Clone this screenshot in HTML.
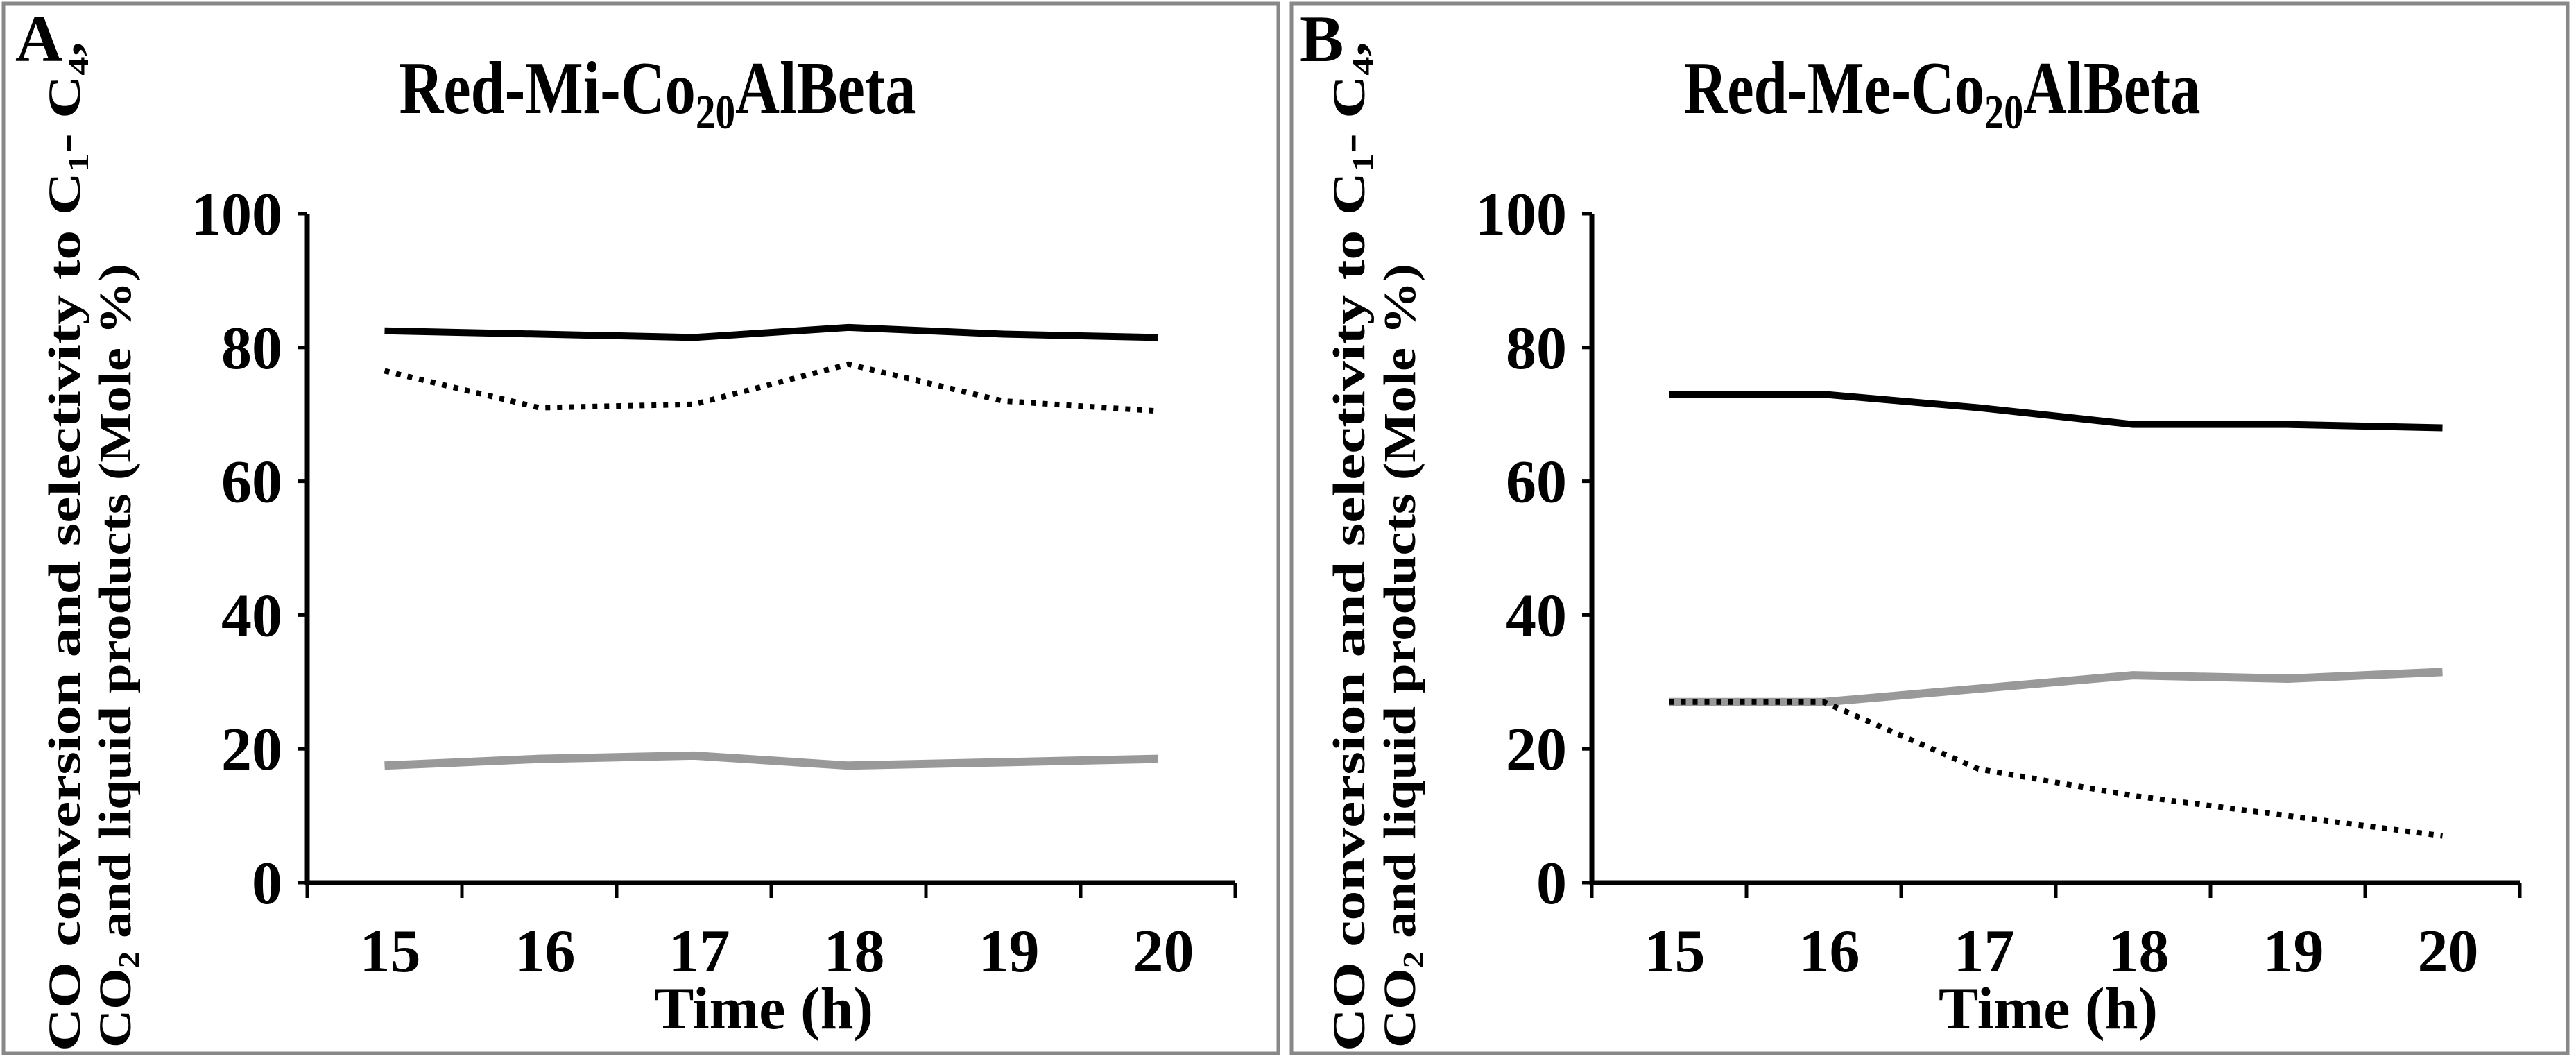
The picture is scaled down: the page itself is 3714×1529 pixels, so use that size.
<!DOCTYPE html>
<html><head><meta charset="utf-8"><style>
html,body{margin:0;padding:0;background:#fff}
svg{display:block;font-family:"Liberation Serif",serif;font-weight:bold}
</style></head><body>
<svg id="fig" width="3714" height="1529" viewBox="0 0 3714 1529" xmlns="http://www.w3.org/2000/svg">
<rect x="5" y="5" width="1838" height="1513" fill="none" stroke="#888" stroke-width="5"/>
<rect x="1862" y="5" width="1840" height="1513" fill="none" stroke="#888" stroke-width="5"/>
</svg>
<script>
const categories = [15, 16, 17, 18, 19, 20];
const yTicks = [0, 20, 40, 60, 80, 100];
const aBlack = [82.5, 82, 81.5, 83, 82, 81.5];
const aDotted = [76.5, 71, 71.5, 77.5, 72, 70.5];
const aGray = [17.5, 18.5, 19, 17.5, 18, 18.5];
const bBlack = [73, 73, 71, 68.5, 68.5, 68];
const bGray = [27, 27, 29, 31, 30.5, 31.5];
const bDotted = [27, 27, 17, 13, 10, 7];

const NS = 'http://www.w3.org/2000/svg';
const svg = document.getElementById('fig');
function mk(tag, attrs, parent) {
  const e = document.createElementNS(NS, tag);
  for (const k in attrs) e.setAttribute(k, attrs[k]);
  (parent || svg).appendChild(e);
  return e;
}
function panel(off, letter, titleMain, black, dotted, gray, key) {
  const g = mk('g', {transform: 'translate(' + off + ',0)'});
  
  
  const x0 = 443, band = 223, yTop = 308, yBot = 1272;
  const xs = i => x0 + band * (i + 0.5);
  const ys = v => yBot - (v / 100) * (yBot - yTop);
  const L = mk('text', {x: 22, y: 88, 'font-size': 95}, g); L.textContent = letter;
  
  
  const t = mk('text', {x: 948, y: 163, 'font-size': 108, 'text-anchor': 'middle', textLength: 745, lengthAdjust: 'spacingAndGlyphs'}, g);
  
  
  const t1 = mk('tspan', {}, t); t1.textContent = titleMain;
  const t2 = mk('tspan', {'font-size': 70, dy: 22}, t); t2.textContent = '20';
  const t3 = mk('tspan', {dy: -22}, t); t3.textContent = 'AlBeta';
  const yl = mk('g', {transform: 'rotate(-90)'}, g);
  
  
  const l1 = mk('text', {x: -1515, y: 115, 'font-size': 66, textLength: 1455, lengthAdjust: 'spacingAndGlyphs'}, yl);
  const a = mk('tspan', {}, l1); a.textContent = 'CO conversion and selectivity to C';
  const b = mk('tspan', {'font-size': 42, dy: 12}, l1); b.textContent = '1';
  const c = mk('tspan', {dy: -12}, l1); c.textContent = '- C';
  const d = mk('tspan', {'font-size': 42, dy: 12}, l1); d.textContent = '4';
  const e = mk('tspan', {dy: -12}, l1); e.textContent = ',';
  const l2 = mk('text', {x: -1510, y: 188, 'font-size': 66, textLength: 1130, lengthAdjust: 'spacingAndGlyphs'}, yl);
  const f = mk('tspan', {}, l2); f.textContent = 'CO';
  const h = mk('tspan', {'font-size': 42, dy: 12}, l2); h.textContent = '2';
  const i2 = mk('tspan', {dy: -12}, l2); i2.textContent = '  and liquid products (Mole %)';
  const ax = mk('path', {d: 'M' + x0 + ' ' + yTop + 'V' + yBot + 'H' + (x0 + band * 6), stroke: '#000', 'stroke-width': 7, fill: 'none'}, g);
  
  
  yTicks.forEach(v => {
    const tk = mk('line', {x1: x0 - 14, x2: x0, y1: ys(v), y2: ys(v), stroke: '#000', 'stroke-width': 5}, g);
    
    
    const tl = mk('text', {x: 407, y: ys(v) + 30, 'font-size': 88, 'text-anchor': 'end'}, g);
    tl.textContent = v;
    
    
  });
  for (let k = 0; k <= 6; k++) {
    const tk = mk('line', {x1: x0 + band * k, x2: x0 + band * k, y1: yBot, y2: yBot + 22, stroke: '#000', 'stroke-width': 5}, g);
    
    
  }
  categories.forEach((cv, k) => {
    const tl = mk('text', {x: xs(k) + 8, y: 1400, 'font-size': 88, 'text-anchor': 'middle'}, g);
    tl.textContent = cv;
    
    
  });
  const xt = mk('text', {x: 1101, y: 1482, 'font-size': 86, 'text-anchor': 'middle'}, g);
  xt.textContent = 'Time (h)';
  
  
  const pts = arr => arr.map((v, k) => xs(k) + ',' + ys(v)).join(' ');
  const sg = mk('polyline', {points: pts(gray), fill: 'none', stroke: '#999', 'stroke-width': 12, 'stroke-linejoin': 'round'}, g);
  
  
  const sb = mk('polyline', {points: pts(black), fill: 'none', stroke: '#000', 'stroke-width': 10, 'stroke-linejoin': 'round'}, g);
  
  
  const sd = mk('polyline', {points: pts(dotted), fill: 'none', stroke: '#000', 'stroke-width': 8, 'stroke-dasharray': '7 10'}, g);
  
  
}
panel(0, 'A', 'Red-Mi-Co', aBlack, aDotted, aGray, 'a');
panel(1852, 'B', 'Red-Me-Co', bBlack, bDotted, bGray, 'b');
</script>
</body></html>
